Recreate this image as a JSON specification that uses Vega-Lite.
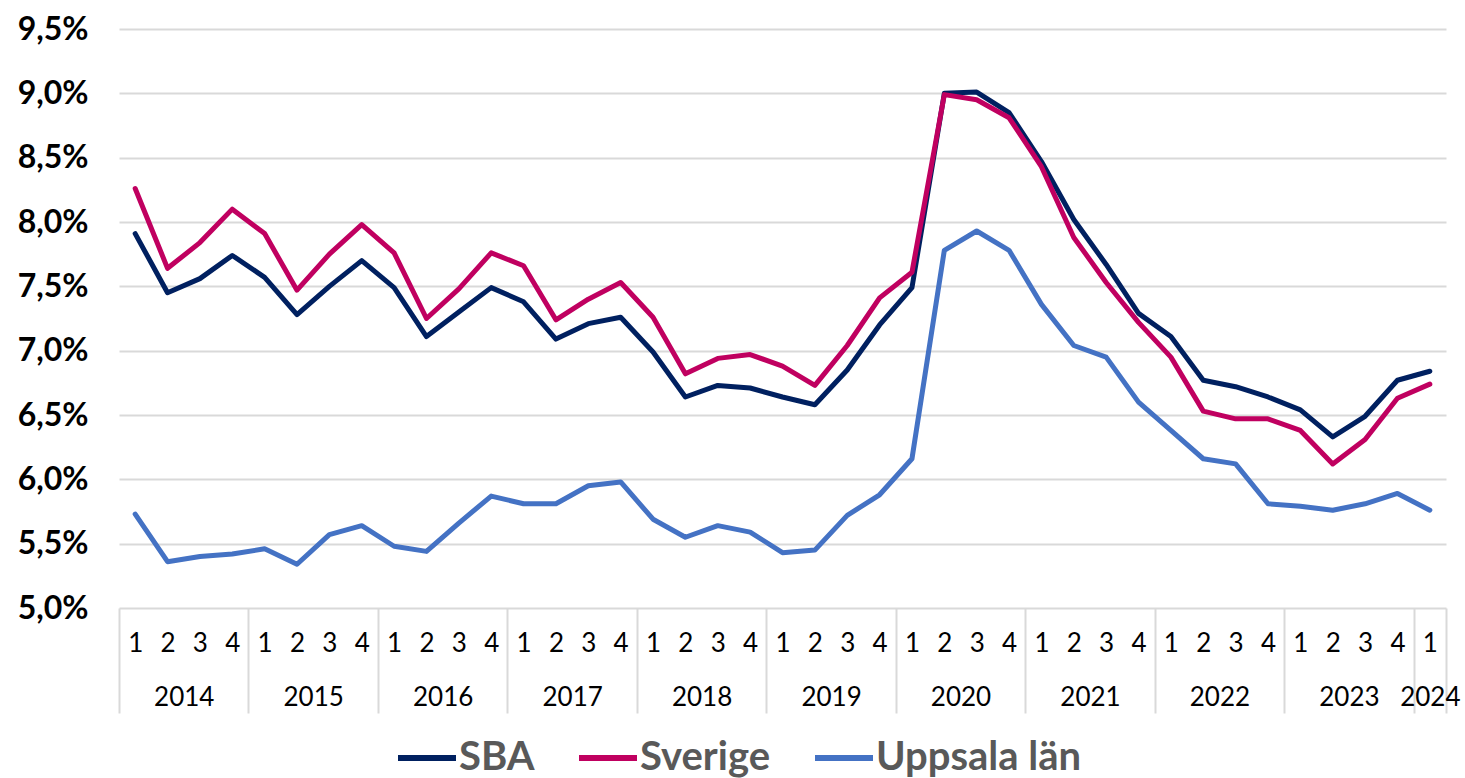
{
  "$schema": "https://vega.github.io/schema/vega-lite/v6.json",
  "autosize": {"type": "none"},
  "width": 1327,
  "height": 579,
  "padding": {"left": 119, "top": 29, "right": 19, "bottom": 170},
  "background": "white",
  "config": {"view": {"stroke": null}, "font": "Lato"},
  "data": {"values": [
    {"i": 1, "SBA": 7.91, "Sverige": 8.26, "Uppsala län": 5.73},
    {"i": 2, "SBA": 7.45, "Sverige": 7.64, "Uppsala län": 5.36},
    {"i": 3, "SBA": 7.56, "Sverige": 7.84, "Uppsala län": 5.40},
    {"i": 4, "SBA": 7.74, "Sverige": 8.10, "Uppsala län": 5.42},
    {"i": 5, "SBA": 7.57, "Sverige": 7.91, "Uppsala län": 5.46},
    {"i": 6, "SBA": 7.28, "Sverige": 7.47, "Uppsala län": 5.34},
    {"i": 7, "SBA": 7.50, "Sverige": 7.75, "Uppsala län": 5.57},
    {"i": 8, "SBA": 7.70, "Sverige": 7.98, "Uppsala län": 5.64},
    {"i": 9, "SBA": 7.49, "Sverige": 7.76, "Uppsala län": 5.48},
    {"i": 10, "SBA": 7.11, "Sverige": 7.25, "Uppsala län": 5.44},
    {"i": 11, "SBA": 7.30, "Sverige": 7.48, "Uppsala län": 5.66},
    {"i": 12, "SBA": 7.49, "Sverige": 7.76, "Uppsala län": 5.87},
    {"i": 13, "SBA": 7.38, "Sverige": 7.66, "Uppsala län": 5.81},
    {"i": 14, "SBA": 7.09, "Sverige": 7.24, "Uppsala län": 5.81},
    {"i": 15, "SBA": 7.21, "Sverige": 7.40, "Uppsala län": 5.95},
    {"i": 16, "SBA": 7.26, "Sverige": 7.53, "Uppsala län": 5.98},
    {"i": 17, "SBA": 6.99, "Sverige": 7.26, "Uppsala län": 5.69},
    {"i": 18, "SBA": 6.64, "Sverige": 6.82, "Uppsala län": 5.55},
    {"i": 19, "SBA": 6.73, "Sverige": 6.94, "Uppsala län": 5.64},
    {"i": 20, "SBA": 6.71, "Sverige": 6.97, "Uppsala län": 5.59},
    {"i": 21, "SBA": 6.64, "Sverige": 6.88, "Uppsala län": 5.43},
    {"i": 22, "SBA": 6.58, "Sverige": 6.73, "Uppsala län": 5.45},
    {"i": 23, "SBA": 6.85, "Sverige": 7.04, "Uppsala län": 5.72},
    {"i": 24, "SBA": 7.20, "Sverige": 7.41, "Uppsala län": 5.88},
    {"i": 25, "SBA": 7.49, "Sverige": 7.61, "Uppsala län": 6.16},
    {"i": 26, "SBA": 9.00, "Sverige": 8.99, "Uppsala län": 7.78},
    {"i": 27, "SBA": 9.01, "Sverige": 8.95, "Uppsala län": 7.93},
    {"i": 28, "SBA": 8.85, "Sverige": 8.81, "Uppsala län": 7.78},
    {"i": 29, "SBA": 8.47, "Sverige": 8.43, "Uppsala län": 7.36},
    {"i": 30, "SBA": 8.02, "Sverige": 7.88, "Uppsala län": 7.04},
    {"i": 31, "SBA": 7.67, "Sverige": 7.53, "Uppsala län": 6.95},
    {"i": 32, "SBA": 7.29, "Sverige": 7.22, "Uppsala län": 6.60},
    {"i": 33, "SBA": 7.11, "Sverige": 6.95, "Uppsala län": 6.38},
    {"i": 34, "SBA": 6.77, "Sverige": 6.53, "Uppsala län": 6.16},
    {"i": 35, "SBA": 6.72, "Sverige": 6.47, "Uppsala län": 6.12},
    {"i": 36, "SBA": 6.64, "Sverige": 6.47, "Uppsala län": 5.81},
    {"i": 37, "SBA": 6.54, "Sverige": 6.38, "Uppsala län": 5.79},
    {"i": 38, "SBA": 6.33, "Sverige": 6.12, "Uppsala län": 5.76},
    {"i": 39, "SBA": 6.49, "Sverige": 6.31, "Uppsala län": 5.81},
    {"i": 40, "SBA": 6.77, "Sverige": 6.63, "Uppsala län": 5.89},
    {"i": 41, "SBA": 6.84, "Sverige": 6.74, "Uppsala län": 5.76}
  ]},
  "resolve": {"scale": {"x": "independent"}, "axis": {"x": "independent"}},
  "layer": [
    {
      "transform": [{"fold": ["SBA", "Sverige", "Uppsala län"], "as": ["serie", "v"]}],
      "mark": {"type": "line", "strokeWidth": 5, "strokeCap": "round", "strokeJoin": "round"},
      "encoding": {
        "x": {
          "field": "i", "type": "quantitative",
          "scale": {"domain": [0.5, 41.5], "nice": false, "zero": false},
          "axis": {
            "orient": "bottom",
            "values": [1,2,3,4,5,6,7,8,9,10,11,12,13,14,15,16,17,18,19,20,21,22,23,24,25,26,27,28,29,30,31,32,33,34,35,36,37,38,39,40,41],
            "labelExpr": "toString((datum.value - 1) % 4 + 1)",
            "title": null, "grid": false, "domain": false, "ticks": false,
            "labelFontSize": 26, "labelColor": "#000000", "labelBaseline": "middle",
            "labelPadding": 35, "labelOverlap": false, "labelFlush": false, "labelBound": false
          }
        },
        "y": {
          "field": "v", "type": "quantitative",
          "scale": {"domain": [5, 9.5], "nice": false, "zero": false},
          "axis": {
            "values": [5, 5.5, 6, 6.5, 7, 7.5, 8, 8.5, 9, 9.5],
            "labelExpr": "replace(format(datum.value, '.1f'), '.', ',') + '%'",
            "title": null, "domain": false, "ticks": false,
            "gridColor": "#d9d9d9", "gridWidth": 2,
            "labelFontSize": 32, "labelFontWeight": "bold", "labelColor": "#000000",
            "labelPadding": 31
          }
        },
        "color": {
          "field": "serie", "type": "nominal",
          "scale": {"domain": ["SBA", "Sverige", "Uppsala län"], "range": ["#002060", "#C00060", "#4472C4"]},
          "legend": {
            "orient": "none", "legendX": 276, "legendY": 697, "direction": "horizontal",
            "title": null, "symbolType": "stroke", "symbolStrokeWidth": 6, "symbolSize": 3364,
            "labelFontSize": 40, "labelFontWeight": "bold", "labelColor": "#595959",
            "labelOffset": 0, "columnPadding": 32, "symbolOffset": 0, "labelLimit": 400
          }
        }
      }
    },
    {
      "mark": {"type": "point", "opacity": 0},
      "encoding": {
        "x": {
          "field": "i", "type": "quantitative",
          "scale": {"domain": [0.5, 41.5], "nice": false, "zero": false},
          "axis": {
            "orient": "bottom",
            "values": [0.5, 4.5, 8.5, 12.5, 16.5, 20.5, 24.5, 28.5, 32.5, 36.5, 40.5, 41.5],
            "labels": false, "title": null, "grid": false, "domain": false,
            "ticks": true, "tickSize": 105, "tickColor": "#d9d9d9", "tickWidth": 2
          }
        }
      }
    },
    {
      "mark": {"type": "point", "opacity": 0},
      "encoding": {
        "x": {
          "field": "i", "type": "quantitative",
          "scale": {"domain": [0.5, 41.5], "nice": false, "zero": false},
          "axis": {
            "orient": "bottom",
            "values": [2.5, 6.5, 10.5, 14.5, 18.5, 22.5, 26.5, 30.5, 34.5, 38.5, 41],
            "labelExpr": "datum.value == 41 ? '2024' : toString(2014 + floor(datum.value / 4))",
            "title": null, "grid": false, "domain": false, "ticks": false,
            "labelFontSize": 26, "labelColor": "#000000", "labelBaseline": "middle",
            "labelPadding": 89, "labelOverlap": false, "labelFlush": false, "labelBound": false
          }
        }
      }
    }
  ]
}
